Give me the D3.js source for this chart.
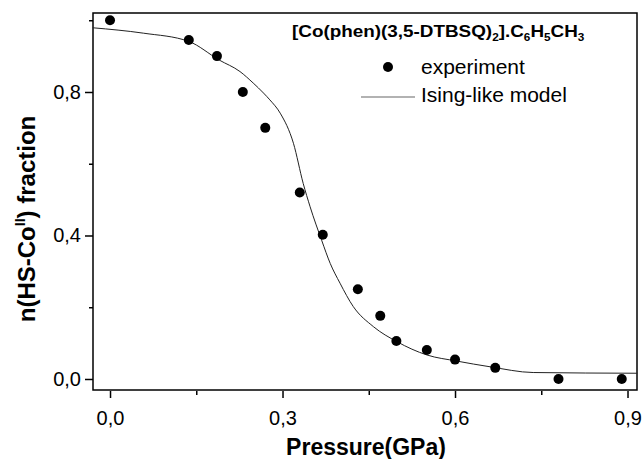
<!DOCTYPE html>
<html lang="en">
<head>
<meta charset="UTF-8">
<title>HS fraction vs pressure</title>
<script src="https://d3js.org/d3.v7.min.js"></script>
<style>
    body { margin: 0; background: #fff; }
    text { font-family: Arial, "Liberation Sans", sans-serif; fill: #000; }
</style>
</head>
<body>
<svg width="643" height="459"></svg>
<script>
    // experimental points (pressure GPa, HS fraction)
    const expP = [0.0, 0.137, 0.186, 0.231, 0.270, 0.330, 0.370, 0.431, 0.470, 0.498, 0.551, 0.600, 0.670, 0.780, 0.890];
    const expN = [1.0, 0.945, 0.900, 0.800, 0.700, 0.520, 0.402, 0.250, 0.176, 0.106, 0.081, 0.054, 0.031, 0.0, 0.0];

    // Ising-like model curve
    const modP = [-0.03, 0.058, 0.137, 0.19, 0.226, 0.249, 0.267, 0.278, 0.296, 0.319, 0.336, 0.348, 0.368, 0.383, 0.40, 0.423, 0.458, 0.499, 0.551, 0.603, 0.661, 0.736, 0.917];
    const modN = [0.979, 0.964, 0.941, 0.889, 0.857, 0.825, 0.797, 0.778, 0.741, 0.657, 0.545, 0.48, 0.387, 0.322, 0.267, 0.202, 0.146, 0.104, 0.067, 0.05, 0.034, 0.018, 0.016];

    const xMajor = [0, 0.3, 0.6, 0.9];
    const xMinor = [0.15, 0.45, 0.75];
    const yMajor = [0, 0.4, 0.8];
    const yMinor = [0.2, 0.6, 1.0];

    const svg = d3.select("svg");
    const fmt = d => d3.format(".1f")(d).replace(".", ",");

    // plot box
    const boxL = 93, boxR = 637, boxT = 13, boxB = 390;
    const x = d3.scaleLinear().domain([-0.0296, 0.9165]).range([boxL, boxR]);
    const y = d3.scaleLinear().domain([-0.0307, 1.0202]).range([boxB, boxT]);

    svg.append("rect")
        .attr("x", boxL).attr("y", boxT)
        .attr("width", boxR - boxL).attr("height", boxB - boxT)
        .attr("fill", "none").attr("stroke", "#000").attr("stroke-width", 1.5);

    function styleAxis(g) {
        g.selectAll(".domain").remove();
        g.selectAll("line").attr("stroke", "#000").attr("stroke-width", 1.5);
        g.selectAll("text").attr("font-size", 20)
            .style("font-family", "Arial, 'Liberation Sans', sans-serif");
    }

    // x axis: major and minor ticks in their own groups
    svg.append("g").attr("transform", `translate(0,${boxB + 1})`)
        .call(d3.axisBottom(x).tickValues(xMajor).tickSize(7).tickPadding(13).tickFormat(fmt))
        .call(styleAxis);
    svg.append("g").attr("transform", `translate(0,${boxB + 1})`)
        .call(d3.axisBottom(x).tickValues(xMinor).tickSize(4).tickFormat(""))
        .call(styleAxis);

    // y axis
    svg.append("g").attr("transform", `translate(${boxL},0)`)
        .call(d3.axisLeft(y).tickValues(yMajor).tickSize(8).tickPadding(4).tickFormat(fmt))
        .call(styleAxis);
    svg.append("g").attr("transform", `translate(${boxL},0)`)
        .call(d3.axisLeft(y).tickValues(yMinor).tickSize(4).tickFormat(""))
        .call(styleAxis);

    // model curve
    const line = d3.line()
        .x(i => x(modP[i]))
        .y(i => y(modN[i]))
        .curve(d3.curveMonotoneX);
    svg.append("path")
        .datum(d3.range(modP.length))
        .attr("d", line)
        .attr("fill", "none")
        .attr("stroke", "#222")
        .attr("stroke-width", 1);

    // experiment points
    svg.selectAll("circle.pt")
        .data(d3.range(expP.length))
        .join("circle")
        .attr("class", "pt")
        .attr("cx", i => x(expP[i]))
        .attr("cy", i => y(expN[i]))
        .attr("r", 5)
        .attr("fill", "#000");

    // title (the original lettering is a bit wide, so stretch it)
    const title = svg.append("g").attr("transform", "translate(292,37) scale(1.18,1)")
        .append("text")
        .attr("font-size", 16).attr("font-weight", "bold");
    title.append("tspan").text("[Co(phen)(3,5-DTBSQ)");
    title.append("tspan").attr("font-size", 10).attr("dy", 4).text("2");
    title.append("tspan").attr("dy", -4).text("].C");
    title.append("tspan").attr("font-size", 10).attr("dy", 4).text("6");
    title.append("tspan").attr("dy", -4).text("H");
    title.append("tspan").attr("font-size", 10).attr("dy", 4).text("5");
    title.append("tspan").attr("dy", -4).text("CH");
    title.append("tspan").attr("font-size", 10).attr("dy", 4).text("3");

    // legend
    svg.append("circle").attr("cx", 388).attr("cy", 67).attr("r", 5).attr("fill", "#000");
    svg.append("text").attr("x", 421).attr("y", 74).attr("font-size", 21).text("experiment");
    svg.append("line").attr("x1", 361).attr("x2", 415).attr("y1", 97).attr("y2", 97)
        .attr("stroke", "#999").attr("stroke-width", 1.5);
    svg.append("text").attr("x", 421).attr("y", 102).attr("font-size", 21).text("Ising-like model");

    // axis titles
    svg.append("text")
        .attr("x", 366).attr("y", 455)
        .attr("text-anchor", "middle")
        .attr("font-size", 23).attr("font-weight", "bold")
        .text("Pressure(GPa)");

    const yt = svg.append("text")
        .attr("transform", "translate(35,219) rotate(-90)")
        .attr("text-anchor", "middle")
        .attr("font-size", 24).attr("font-weight", "bold");
    yt.append("tspan").text("n(HS-Co");
    yt.append("tspan").attr("font-size", 14).attr("dy", -10).text("II");
    yt.append("tspan").attr("dy", 10).text(") fraction");
</script>
</body>
</html>
